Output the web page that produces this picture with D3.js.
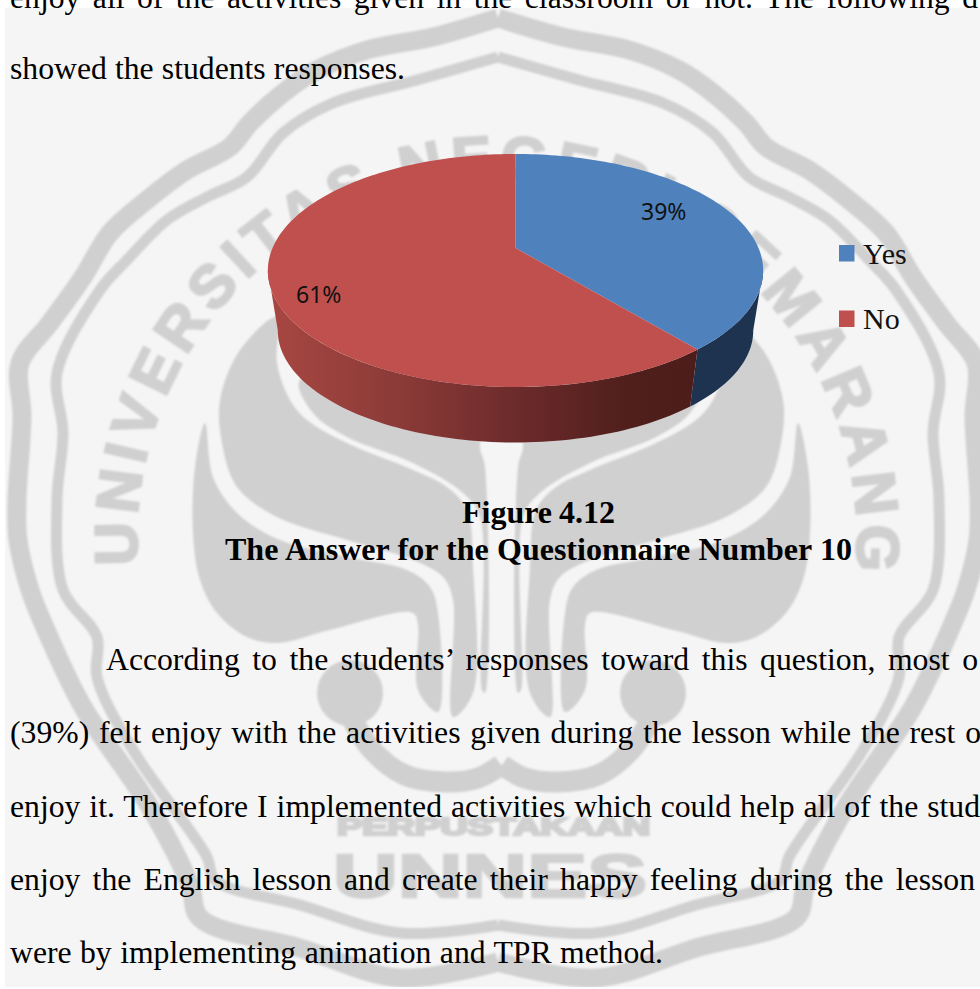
<!DOCTYPE html>
<html>
<head>
<meta charset="utf-8">
<script src="https://d3js.org/d3.v7.min.js"></script>
<style>
  html, body { margin: 0; padding: 0; background: #fff; }
  svg { display: block; }
  .mark { fill: #d0d0d0; stroke: none; }
  .band { fill: none; stroke: #d0d0d0; stroke-linejoin: round; }
  .wm { font-family: "Liberation Sans", sans-serif; font-weight: bold; fill: #d0d0d0; stroke: #d0d0d0; stroke-width: 2.5px; }
  .body { font-family: "Liberation Serif", serif; font-size: 31.7px; fill: #000; }
  .cap { font-family: "Liberation Serif", serif; font-weight: bold; font-size: 32px; fill: #000; }
  .legend { font-family: "Liberation Serif", serif; font-size: 30px; fill: #111; }
  .lab { font-family: "Noto Sans", sans-serif; font-size: 23px; fill: #111; }
</style>
</head>
<body>
<svg id="chart" width="980" height="989"></svg>
<script>
var categories = ['Yes', 'No'];
var values = [39, 61];
var labels = ['39%', '61%'];
var topColors = ['#4f81bd', '#c0504d'];

var bodyLines = [
  ['enjoy all of the activities given in the classroom or not. The following d', 10, 8, 978],
  ['showed the students responses.', 10, 79, 405],
  ['According to the students\u2019 responses toward this question, most o', 106, 670, 978],
  ['(39%) felt enjoy with the activities given during the lesson while the rest o', 10, 743, 981],
  ['enjoy it. Therefore I implemented activities which could help all of the stud', 10, 817, 980],
  ['enjoy the English lesson and create their happy feeling during the lesson', 10, 890, 975],
  ['were by implementing animation and TPR method.', 10, 963, 663]
];
var captionLines = [
  ['Figure 4.12', 462, 523, 615],
  ['The Answer for the Questionnaire Number 10', 225, 560, 852]
];

var svg = d3.select('#chart');
var defs = svg.append('defs');

svg.append('rect').attr('x', 5).attr('y', 8).attr('width', 975).attr('height', 979).attr('fill', '#f5f5f5');

// ---- watermark (university crest behind the page)
defs.append('clipPath').attr('id', 'page').append('rect')
  .attr('x', 5).attr('y', 8).attr('width', 975).attr('height', 979);
defs.append('filter').attr('id', 'soft').append('feGaussianBlur').attr('stdDeviation', 0.8);

var wm = svg.append('g').attr('clip-path', 'url(#page)').append('g').attr('filter', 'url(#soft)');

var outerBand = [[498,18],[433,37],[367,50],[317,70],[283,93],[250,123],[230,147],[187,170],[147,200],[110,233],[83,277],[50,323],[20,363],[22,417],[17,500],[18,540],[30,590],[43,623],[83,707],[150,807],[190,885],[200,918],[300,948],[400,978],[498,962]];
var innerBand = [[498,57],[417,80],[333,103],[283,133],[247,177],[207,197],[167,220],[127,260],[100,290],[57,373],[63,433],[57,500],[63,590],[97,637],[97,677],[133,750],[207,857],[215,880],[300,905],[400,933],[498,925]];
var lowerLobe = [[205,423],[195,467],[193,533],[200,580],[217,613],[247,637],[277,643],[330,630],[413,613],[418,625],[418,690],[438,712],[438,613],[430,587],[407,570],[347,557],[280,540],[237,513],[213,477]];
var upperLobe = [[277,317],[240,350],[220,400],[222,443],[237,487],[277,517],[347,540],[413,560],[443,577],[453,600],[453,717],[473,693],[473,567],[467,510],[447,487],[413,470],[347,443],[307,420],[290,400],[277,363]];
var topLobe = [[300,380],[500,380],[480,445],[485,467],[485,693],[482,690],[480,517],[463,493],[413,463],[347,437],[313,413]];
var ringArc = [[350,715],[372,750],[405,775],[445,782],[478,778],[501,765]];

var smooth = d3.line().curve(d3.curveCatmullRom.alpha(0.5));
var closedSmooth = d3.line().curve(d3.curveCatmullRomClosed.alpha(0.5));

function crestHalf(g, mirror) {
  var ringG = g.append('g'), emblemG = g.append('g');
  if (mirror) {
    ringG.attr('transform', 'translate(996,0) scale(-1,1)');
    emblemG.attr('transform', 'translate(1003,0) scale(-1,1)');
  }
  ringG.append('path').attr('class', 'band').attr('d', smooth(outerBand)).attr('stroke-width', 19);
  ringG.append('path').attr('class', 'band').attr('d', smooth(innerBand)).attr('stroke-width', 11);
  [lowerLobe, upperLobe, topLobe].forEach(function(p) {
    emblemG.append('path').attr('class', 'mark').attr('d', closedSmooth(p));
  });
  emblemG.append('circle').attr('class', 'mark').attr('cx', 350).attr('cy', 693).attr('r', 33);
  emblemG.append('path').attr('class', 'band').attr('d', smooth(ringArc)).attr('stroke-width', 21);
}
crestHalf(wm, false);
crestHalf(wm, true);

defs.append('path').attr('id', 'ringPath').attr('d', 'M138,565 A360,360 0 1 1 856,565');
wm.append('text').attr('class', 'wm').style('font-size', '60px')
  .append('textPath').attr('href', '#ringPath')
  .attr('textLength', 1190).attr('lengthAdjust', 'spacing')
  .text('UNIVERSITAS NEGERI SEMARANG');
wm.append('text').attr('class', 'wm').attr('x', 337).attr('y', 835).style('font-size', '24px')
  .attr('textLength', 313).attr('lengthAdjust', 'spacingAndGlyphs').text('PERPUSTAKAAN');
wm.append('text').attr('class', 'wm').attr('x', 333).attr('y', 897).style('font-size', '61px')
  .attr('textLength', 314).attr('lengthAdjust', 'spacingAndGlyphs').text('UNNES');

// ---- 3D pie: unit disc pushed through a perspective projection
var cx = 515.5, apexY = 248, rx = 243, ry = 112.2, k = 0.193;
var wallScale = 0.96, wallDrop = 61;
var rightEdge = 100.9 * Math.PI / 180, leftEdge = 259.1 * Math.PI / 180;

function project(angle, scale, drop) {
  var X = Math.sin(angle), Y = -Math.cos(angle), d = 1 - k * Y;
  return [cx + scale * rx * X / d, apexY + drop + scale * ry * Y / d];
}
function arcPoints(a0, a1, scale, drop) {
  var n = Math.max(2, Math.ceil((a1 - a0) * 40));
  return d3.range(n + 1).map(function(i) { return project(a0 + (a1 - a0) * i / n, scale, drop); });
}

var pie = d3.pie().sort(null)(values);
var line = d3.line();

defs.append('clipPath').attr('id', 'pieClip').append('rect')
  .attr('x', 240).attr('y', 140).attr('width', 560).attr('height', 303);

var redWall = defs.append('linearGradient').attr('id', 'redWall')
  .attr('gradientUnits', 'userSpaceOnUse')
  .attr('x1', 268).attr('x2', 692).attr('y1', 0).attr('y2', 0);
[[0, '#a84742'], [0.3, '#8c3b38'], [0.6, '#6b2a2a'], [0.85, '#4f1f1c'], [1, '#4d1d1b']].forEach(function(s) {
  redWall.append('stop').attr('offset', s[0]).attr('stop-color', s[1]);
});
var wallFill = ['#1e3350', 'url(#redWall)'];

var pieG = svg.append('g').attr('clip-path', 'url(#pieClip)');

pieG.selectAll('path.wall').data(pie).enter().append('path')
  .attr('class', 'wall')
  .attr('fill', function(d, i) { return wallFill[i]; })
  .attr('d', function(d) {
    var a0 = Math.max(d.startAngle, rightEdge), a1 = Math.min(d.endAngle, leftEdge);
    var upper = arcPoints(a0, a1, 1, 0), lower = arcPoints(a0, a1, wallScale, wallDrop).reverse();
    return line(upper.concat(lower)) + 'Z';
  });

pieG.selectAll('path.slice').data(pie).enter().append('path')
  .attr('class', 'slice')
  .attr('fill', function(d, i) { return topColors[i]; })
  .attr('d', function(d) {
    return line([[cx, apexY]].concat(arcPoints(d.startAngle, d.endAngle, 1, 0))) + 'Z';
  });

var labelSpots = [[641, 220], [296, 303]];
svg.selectAll('text.lab').data(labels).enter().append('text')
  .attr('class', 'lab')
  .attr('x', function(d, i) { return labelSpots[i][0]; })
  .attr('y', function(d, i) { return labelSpots[i][1]; })
  .text(function(d) { return d; });

// ---- legend
var legendY = d3.scalePoint().domain(categories).range([253, 318.5]);
var legend = svg.selectAll('g.key').data(categories).enter().append('g').attr('class', 'key')
  .attr('transform', function(d) { return 'translate(0,' + legendY(d) + ')'; });
legend.append('rect').attr('x', 839).attr('y', -8).attr('width', 15.5).attr('height', 16.5)
  .attr('fill', function(d, i) { return topColors[i]; });
legend.append('text').attr('class', 'legend').attr('x', 863).attr('y', 10.5).text(function(d) { return d; });

// ---- page text, justified by stretching the word gaps
function setLine(cls, row) {
  var t = svg.append('text').attr('class', cls).attr('x', row[1]).attr('y', row[2]).text(row[0]);
  var gaps = row[0].split(' ').length - 1;
  var extra = (row[3] - row[1] - t.node().getComputedTextLength()) / gaps;
  t.style('word-spacing', extra + 'px');
}
bodyLines.forEach(function(r) { setLine('body', r); });
captionLines.forEach(function(r) { setLine('cap', r); });
</script>
</body>
</html>
